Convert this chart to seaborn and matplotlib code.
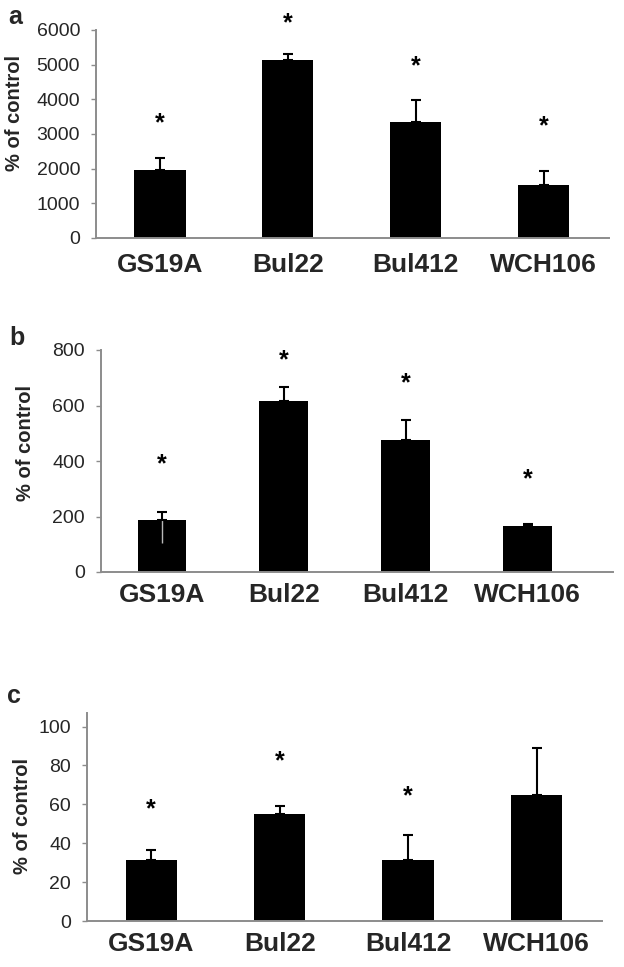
import numpy as np
import pandas as pd
import matplotlib
matplotlib.use("Agg")
import matplotlib.pyplot as plt
import seaborn as sns

strains = ["GS19A", "Bul22", "Bul412", "WCH106"]

a_vals = [1970, 5135, 3340, 1535]
a_err = [350, 165, 640, 400]
a_star = [3310, 6190, 4940, 3235]

b_vals = [188, 616, 474, 166]
b_err = [29, 50, 72, 7]
b_err_low = [83, 0, 0, 0]
b_star = [389, 764, 680, 335]

c_vals = [31.4, 55.2, 31.4, 64.9]
c_err = [5.2, 4.1, 12.9, 24.3]
c_star = [57.2, 82.0, 64.0, None]

sns.set_theme(style="white")
plt.rcParams['font.family'] = ['Liberation Sans', 'DejaVu Sans']

fig = plt.figure(figsize=(6.24, 9.67), dpi=100)

W, H = 624, 967
panels = [
    # letter, vals, err, lower err, star, ylim, yticks, rect px (l, r, t, b), xlim, ylabel coords, letter pos, xtick pad
    ("a", a_vals, a_err, None, a_star, (0, 6000), np.arange(0, 6001, 1000),
     (96, 609, 30, 238), (-0.5, 3.51), (-0.141, 0.60), (8, 24), 11),
    ("b", b_vals, b_err, b_err_low, b_star, (0, 800), np.arange(0, 801, 200),
     (101, 613, 350, 572), (-0.5, 3.70), (-0.129, 0.58), (9, 345), 8),
    ("c", c_vals, c_err, None, c_star, (0, 107), np.arange(0, 101, 20),
     (87, 602, 713, 921), (-0.5, 3.51), (-0.107, 0.505), (7, 703), 8),
]

for letter, vals, err, err_low, star, ylim, yticks, rect, xlim, lab, lpos, xpad in panels:
    l, r, t, b = rect
    ax = fig.add_axes([l / W, 1 - b / H, (r - l) / W, (b - t) / H])
    df = pd.DataFrame({"strain": strains, "value": vals})
    sns.barplot(data=df, x="strain", y="value", color="black", width=0.40,
                saturation=1, errorbar=None, ax=ax)
    for p in ax.patches:
        p.set_edgecolor("none")
    xs = np.arange(len(strains))
    if err_low is not None:
        ax.errorbar(xs, vals, yerr=[err_low, np.zeros(len(err))], fmt="none",
                    ecolor="#b8b8b8", elinewidth=1.0, capsize=0)
    ax.errorbar(xs, vals, yerr=[np.zeros(len(err)), err], fmt="none",
                ecolor="black", elinewidth=1.5, capsize=3.7, capthick=1.5)
    for x, s in zip(xs, star):
        if s is not None:
            ax.text(x, s, "*", ha="center", va="center", fontsize=18,
                    fontweight="bold", color="black")
    ax.set_xlim(*xlim)
    ax.set_ylim(*ylim)
    ax.set_yticks(yticks)
    ax.set_yticklabels([str(int(v)) for v in yticks], fontsize=14)
    ax.set_xticks(xs)
    ax.set_xticklabels(strains, fontsize=19, fontweight="bold")
    ax.set_xlabel("")
    ax.set_ylabel("% of control", fontsize=14.5, fontweight="bold")
    ax.yaxis.set_label_coords(*lab)
    for side in ["top", "right"]:
        ax.spines[side].set_visible(False)
    for side in ["left", "bottom"]:
        ax.spines[side].set_color("#8c8c8c")
        ax.spines[side].set_linewidth(1.4)
    ax.tick_params(axis="y", direction="out", length=3.5, width=1.0,
                   color="#8c8c8c", pad=8, left=True)
    ax.tick_params(axis="x", length=0, pad=xpad)
    ax.set_facecolor("white")
    fig.text(lpos[0] / W, 1 - lpos[1] / H, letter, fontsize=18,
             fontweight="bold", ha="left", va="baseline")

fig.savefig("out.png", dpi=100, facecolor="white")
